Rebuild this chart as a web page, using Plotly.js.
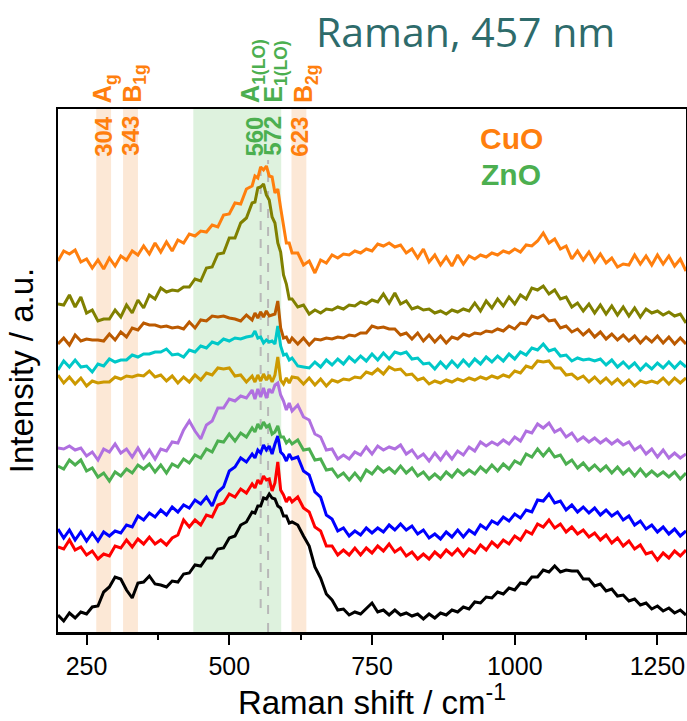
<!DOCTYPE html>
<html>
<head>
<meta charset="utf-8">
<script src="https://cdn.plot.ly/plotly-3.0.1.min.js"></script>
<style>html,body{margin:0;padding:0;background:#fff;}#chart{width:687px;height:721px;}</style>
</head>
<body>
<div id="chart"></div>
<script>
// Raman shift (cm^-1)
const ramanShift = [200,210,220,230,240,250,260,270,280,290,300,310,320,330,340,350,360,370,380,390,400,410,420,430,440,450,460,470,480,490,500,510,520,530,
540,545,550,555,560,565,570,575,580,585,590,595,600,605,610,
620,630,640,650,660,670,680,690,700,710,720,730,740,750,760,770,780,790,800,810,820,830,840,850,860,870,880,890,900,910,920,930,940,950,960,970,980,990,1000,1010,1020,1030,1040,1050,1060,1070,1080,1090,1100,1110,1120,1130,1140,1150,1160,1170,1180,1190,1200,1210,1220,1230,1240,1250,1260,1270,1280,1290,1300];

// Stacked intensities (a.u., offset)
const sOrange = [371,381,378,382,370,373,364,372,363,374,366,376,372,381,377,386,378,389,380,390,381,392,389,398,396,401,400,407,405,417,418,429,428,443,
446,456,454,465,462,466,456,455,439,443,424,407,389,389,379,
379,367,371,359,372,369,377,374,378,377,381,379,383,381,388,386,389,385,387,379,383,374,383,370,377,367,375,366,377,368,376,373,377,375,379,377,381,379,383,380,387,386,391,399,389,393,383,386,373,381,372,380,370,378,369,374,365,368,367,377,368,376,367,377,368,376,366,373,361];
const sOlive = [328,327,337,325,335,319,322,311,313,313,322,315,327,319,332,324,337,333,344,340,342,341,345,345,353,351,364,365,378,379,394,394,409,414,
429,430,444,445,448,437,432,415,409,389,380,357,348,333,333,
325,327,318,322,319,323,322,325,323,327,326,330,328,332,330,338,329,339,328,331,323,325,322,323,319,321,318,322,320,323,321,329,321,331,324,333,326,335,328,337,333,344,342,346,338,342,333,335,325,329,321,328,319,327,318,326,317,325,316,324,315,323,319,321,317,320,316,318,309];
const sBrown = [288,294,287,297,291,293,292,292,291,298,292,300,295,304,302,309,307,307,305,306,304,305,303,310,304,312,311,316,315,316,314,313,311,317,
312,319,314,320,315,321,316,317,318,331,304,294,295,289,294,
288,294,287,293,292,294,293,295,294,297,296,299,299,306,304,305,303,303,297,299,293,299,291,297,290,296,289,295,293,298,296,299,298,301,300,303,301,306,303,309,308,316,314,317,311,312,304,306,300,303,297,302,295,300,293,298,292,297,291,296,289,295,290,296,289,295,288,294,288];
const sCyan = [262,271,265,272,265,266,260,268,266,273,270,272,272,277,275,278,278,280,280,283,277,278,275,282,280,286,284,290,288,293,291,294,293,295,
296,301,294,295,289,292,290,291,288,306,286,277,278,272,274,
266,265,264,270,265,272,267,273,268,275,270,276,271,278,272,279,273,280,278,280,273,274,268,269,263,270,264,271,265,272,266,273,268,275,270,276,271,278,273,280,277,284,282,288,281,283,276,277,271,274,272,273,271,273,267,272,265,270,264,269,262,268,263,269,264,270,264,270,265];
const sGold = [257,249,255,248,254,246,251,249,250,250,255,253,256,255,257,256,261,255,257,251,256,249,255,250,257,252,259,257,264,263,264,256,257,250,
256,250,257,251,258,252,257,250,257,275,252,248,254,249,255,
254,248,254,247,253,246,252,250,253,252,255,254,260,258,263,258,265,262,263,257,258,252,254,248,251,249,252,250,253,251,254,252,255,253,256,254,257,255,261,259,266,264,271,270,271,264,264,257,258,253,256,250,255,249,254,248,253,247,252,246,251,249,251,249,254,248,254,249,254];
const sPurple = [184,183,186,182,184,176,180,172,183,180,188,179,183,175,184,174,182,173,183,181,190,189,202,211,201,193,207,211,224,224,233,231,236,234,
242,233,243,235,244,234,243,239,247,249,237,231,222,229,221,
227,215,212,198,195,182,183,173,177,173,180,177,185,178,186,182,185,183,187,178,182,174,178,171,179,172,180,173,181,177,185,181,190,186,190,187,192,188,195,191,201,199,208,204,209,200,203,195,199,191,195,190,194,189,193,188,192,187,190,182,186,178,183,175,182,174,179,174,178];
const sGreen = [166,163,172,167,172,161,164,155,159,151,160,156,163,159,167,163,168,160,167,159,168,165,173,169,177,174,183,180,191,190,198,191,199,195,
204,200,208,203,210,205,207,198,200,206,195,195,189,192,188,
192,182,183,172,173,162,163,155,159,152,159,152,162,158,165,160,164,159,166,159,164,156,160,153,158,153,160,155,162,157,162,158,165,160,167,161,168,163,171,168,178,175,183,176,183,175,177,168,172,164,169,162,167,161,166,159,165,158,163,156,163,156,161,156,160,155,160,153,159];
const sBlue = [103,94,102,92,100,91,99,91,100,96,101,99,107,105,116,112,119,115,122,117,125,120,127,124,132,128,135,126,140,145,161,165,174,170,
178,174,182,179,187,182,186,178,188,196,180,177,171,178,173,
175,161,157,140,135,117,113,101,104,96,101,97,104,99,104,100,107,102,108,102,106,98,102,94,98,93,100,95,102,95,102,98,107,103,111,108,115,111,118,114,122,120,132,131,138,129,131,122,127,120,125,119,124,117,122,116,120,112,116,107,111,103,107,100,105,98,103,96,101];
const sRed = [85,83,92,82,85,77,81,73,78,76,86,84,92,85,93,88,95,88,92,87,94,97,112,105,112,107,117,115,127,129,138,135,143,139,
148,144,152,148,156,152,153,141,149,170,142,137,130,135,130,
135,124,120,105,101,86,86,77,82,77,84,77,84,79,86,81,88,80,84,76,80,73,78,73,80,75,82,77,83,76,83,79,87,82,90,85,92,88,96,92,101,98,108,105,112,104,108,100,105,98,102,95,99,92,97,89,94,86,91,83,87,78,80,72,79,74,81,76,82];
const sBlack = [17,11,19,14,20,18,25,26,40,45,55,53,42,34,49,50,56,48,47,45,51,50,58,59,67,66,74,74,83,84,94,96,107,110,
120,119,126,126,134,133,138,134,133,126,124,116,116,109,110,
107,96,86,65,54,38,32,22,23,17,20,18,24,29,20,22,17,22,17,19,16,18,13,18,14,19,17,22,20,25,23,30,29,35,34,40,38,44,42,49,48,55,55,62,60,66,60,62,61,61,53,53,46,48,41,43,36,37,31,33,27,29,23,26,21,24,19,22,17];

const seriesList = [sBlack, sRed, sBlue, sGreen, sPurple, sGold, sCyan, sBrown, sOlive, sOrange];
const seriesColors = ['#000000','#ff0000','#0000ff','#4caf50','#b070e0','#cc9900','#00c8c8','#bb5a00','#808000','#ff7f0e'];

// Marked bands (cm^-1)
const bandLo = [267, 314, 437, 609];
const bandHi = [293, 340, 591, 635];
const bandFill = ['#fce8d6', '#fce8d6', '#def2de', '#fce8d6'];
// Dashed reference lines (cm^-1) and their vertical extent (a.u.)
const refLines = [555, 568];
const refLow = [24, 0];
const refTop = 472;

// Labels
const modeValues = ['304', '343', '560', '572', '623'];
const modeValuePos = [280, 327, 544, 576, 623];
const modeValueColor = ['#ff7f0e','#ff7f0e','#4caf50','#4caf50','#ff7f0e'];
const modeNames = ['A<sub>g</sub>', 'B<sub>1g</sub>', 'A<sub>1(LO)</sub>', 'E<sub>1(LO)</sub>', 'B<sub>2g</sub>'];
const modeNamePos = [282, 334, 540, 580, 634];

const traces = seriesList.map((s, i) => ({
  x: ramanShift, y: s, type: 'scatter', mode: 'lines',
  line: {color: seriesColors[i], width: 3}, showlegend: false, hoverinfo: 'skip'
}));

const shapes = [];
bandLo.forEach((lo, i) => shapes.push({type: 'rect', xref: 'x', yref: 'paper', x0: lo, x1: bandHi[i], y0: 0, y1: 1,
  fillcolor: bandFill[i], line: {width: 0}, layer: 'below'}));
refLines.forEach((v, i) => shapes.push({type: 'line', xref: 'x', yref: 'y', x0: v, x1: v, y0: refLow[i], y1: refTop,
  line: {color: '#b8b8b8', width: 2, dash: 'dash'}, layer: 'below'}));

const annotations = [];
modeValues.forEach((t, i) => annotations.push({text: '<b>' + t + '</b>', x: modeValuePos[i], xref: 'x', y: 0.948, yref: 'paper',
  textangle: -90, showarrow: false, xanchor: 'center', yanchor: 'middle',
  font: {family: 'Arial, Liberation Sans, sans-serif', size: 24, color: modeValueColor[i]}}));
modeNames.forEach((t, i) => annotations.push({text: '<b>' + t + '</b>', x: modeNamePos[i], xref: 'x', y: 1.008, yref: 'paper',
  textangle: -90, showarrow: false, xanchor: 'center', yanchor: 'bottom',
  font: {family: 'Arial, Liberation Sans, sans-serif', size: 25, color: modeValueColor[i]}}));
annotations.push({text: '<b>CuO</b>', x: 0.722, y: 0.944, xref: 'paper', yref: 'paper', showarrow: false,
  xanchor: 'center', yanchor: 'middle',
  font: {family: 'Arial, Liberation Sans, sans-serif', size: 30, color: '#ff7f0e'}});
annotations.push({text: '<b>ZnO</b>', x: 0.722, y: 0.874, xref: 'paper', yref: 'paper', showarrow: false,
  xanchor: 'center', yanchor: 'middle',
  font: {family: 'Arial, Liberation Sans, sans-serif', size: 30, color: '#4caf50'}});
annotations.push({text: 'Raman, 457 nm', x: 0.41, y: 1.205, xref: 'paper', yref: 'paper', showarrow: false,
  xanchor: 'left', yanchor: 'top', borderpad: 0,
  font: {family: 'Open Sans, sans-serif', size: 41, color: '#2e6b6b'}});

const layout = {
  width: 687, height: 721,
  margin: {l: 58, r: 1, t: 109, b: 89},
  paper_bgcolor: '#ffffff', plot_bgcolor: '#ffffff',
  font: {family: 'Arial, Liberation Sans, sans-serif', color: '#000'},
  xaxis: {
    range: [200, 1300], showline: true, linecolor: '#000', linewidth: 2.5, mirror: true,
    ticks: 'outside', ticklen: 10, tickwidth: 2, tickcolor: '#000', dtick: 250, tick0: 0,
    minor: {ticks: 'outside', ticklen: 5, tickwidth: 2, tickcolor: '#000', dtick: 125, tick0: 0},
    showgrid: false, zeroline: false,
    tickfont: {size: 25, family: 'Arial, Liberation Sans, sans-serif', color: '#000'},
    title: {text: 'Raman shift / cm<sup>-1</sup>', font: {size: 33, color: '#000'}, standoff: 14}
  },
  yaxis: {
    range: [0, 523], showline: true, linecolor: '#000', linewidth: 2.5, mirror: true,
    ticks: '', showticklabels: false, showgrid: false, zeroline: false,
    title: {text: 'Intensity / a.u.', font: {size: 33, color: '#000'}, standoff: 12}
  },
  shapes: shapes,
  annotations: annotations
};

Plotly.newPlot('chart', traces, layout, {displayModeBar: false, staticPlot: true});
</script>
</body>
</html>
